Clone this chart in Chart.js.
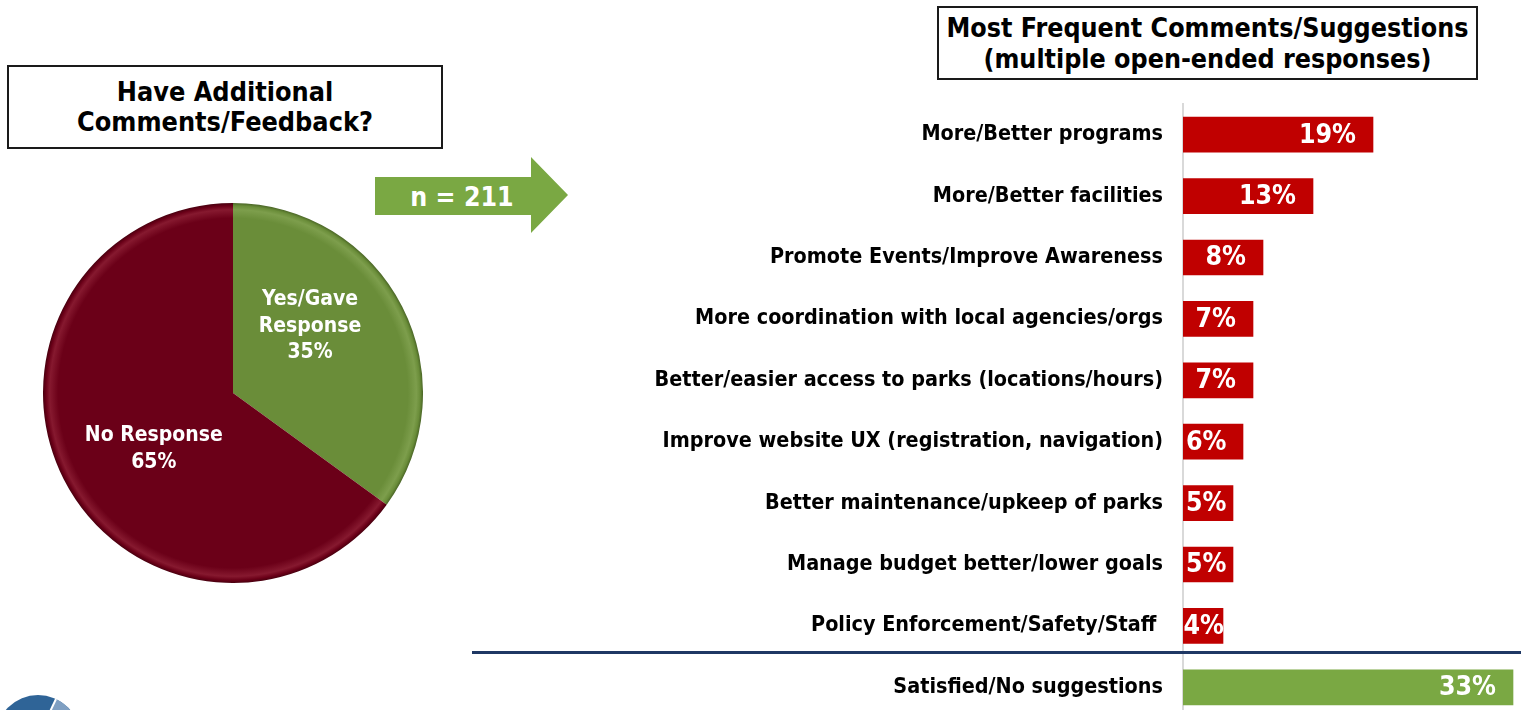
<!DOCTYPE html>
<html>
<head>
<meta charset="utf-8">
<script src="https://cdn.jsdelivr.net/npm/chart.js@4.4.0/dist/chart.umd.min.js"></script>
<style>
  html, body { margin: 0; padding: 0; background: #fff; width: 1521px; height: 710px; overflow: hidden; position: relative; }
  .f { font-family: "DejaVu Sans Condensed", "DejaVu Sans", sans-serif; font-weight: bold; }
  .box { position: absolute; box-sizing: border-box; border: 2px solid #1a1a1a; background: #fff; color: #000; text-align: center; display: flex; flex-direction: column; justify-content: center; }
  #pieBox { left: 7px; top: 65px; width: 436px; height: 84px; font-size: 26.8px; line-height: 30px; }
  #barBox { left: 937px; top: 6px; width: 541px; height: 74px; font-size: 26.6px; line-height: 31px; }
  canvas { position: absolute; }
  #pie { left: 43px; top: 203px; }
  #bar { left: 460px; top: 0px; }
  svg { position: absolute; left: 0; top: 0; }
</style>
</head>
<body>
<div id="pieBox" class="box f"><div>Have Additional</div><div>Comments/Feedback?</div></div>
<div id="barBox" class="box f"><div>Most Frequent Comments/Suggestions</div><div>(multiple open-ended responses)</div></div>
<svg width="1521" height="710">
  <polygon points="375,177 531,177 531,157 568,195 531,233 531,215 375,215" fill="#7aa843"/>
  <text x="462" y="206" text-anchor="middle" fill="#fff" font-family="DejaVu Sans Condensed, DejaVu Sans, sans-serif" font-weight="bold" font-size="26.5">n = 211</text>
  <circle cx="38" cy="737" r="42" fill="#2f6497"/>
  <path d="M38,737 L56,699 A42,42 0 0 1 80,737 Z" fill="#7f9fc2"/>
  <line x1="38" y1="737" x2="56" y2="699" stroke="#fff" stroke-width="2"/>
</svg>
<canvas id="pie" width="380" height="380"></canvas>
<canvas id="bar" width="1061" height="720"></canvas>
<script>
// ---------- data ----------
const pieLabels = ['Yes/Gave Response', 'No Response'];
const pieValues = [35, 65];
const pieLabelLines = [['Yes/Gave', 'Response', '35%'], ['No Response', '65%']];

const categories = [
  'More/Better programs',
  'More/Better facilities',
  'Promote Events/Improve Awareness',
  'More coordination with local agencies/orgs',
  'Better/easier access to parks (locations/hours)',
  'Improve website UX (registration, navigation)',
  'Better maintenance/upkeep of parks',
  'Manage budget better/lower goals',
  'Policy Enforcement/Safety/Staff ',
  'Satisfied/No suggestions'
];
const percentages = [19, 13, 8, 7, 7, 6, 5, 5, 4, 33];

// ---------- styling ----------
const FONT = '"DejaVu Sans Condensed", "DejaVu Sans", sans-serif';
const RED = '#c00000';
const GREEN = '#7aa843';
const PIE_COLORS = ['#6a8d39', '#6b0018'];
const PIE_LIGHT = ['#7d9e4c', '#86192f'];
const PIE_DARK = ['#4a6526', '#48000f'];

Chart.defaults.font.family = FONT;

// ---------- pie ----------
function pieFill(ctx) {
  const chart = ctx.chart;
  const area = chart.chartArea;
  const i = ctx.dataIndex;
  if (!area || !isFinite(area.left) || area.width <= 0) return PIE_COLORS[i];
  const cx = (area.left + area.right) / 2;
  const cy = (area.top + area.bottom) / 2;
  const r = Math.min(area.width, area.height) / 2;
  if (!(r > 0)) return PIE_COLORS[i];
  const g = chart.ctx.createRadialGradient(cx, cy, 0, cx, cy, r);
  g.addColorStop(0, PIE_COLORS[i]);
  g.addColorStop(0.92, PIE_COLORS[i]);
  g.addColorStop(0.965, PIE_LIGHT[i]);
  g.addColorStop(0.985, PIE_COLORS[i]);
  g.addColorStop(1, PIE_DARK[i]);
  return g;
}

const pieLabelPlugin = {
  id: 'pieLabels',
  afterDatasetsDraw(chart) {
    const ctx = chart.ctx;
    const meta = chart.getDatasetMeta(0);
    const radii = [0.537, 0.51];
    const shift = [-14.0, -8.2];
    meta.data.forEach((arc, i) => {
      const mid = (arc.startAngle + arc.endAngle) / 2 + shift[i] * Math.PI / 180;
      const rr = arc.outerRadius * radii[i];
      const x = arc.x + Math.cos(mid) * rr;
      const y = arc.y + Math.sin(mid) * rr;
      const lines = pieLabelLines[i];
      const lh = 26.8;
      ctx.save();
      ctx.fillStyle = '#fff';
      ctx.font = 'bold 21px ' + FONT;
      ctx.textAlign = 'center';
      ctx.textBaseline = 'middle';
      lines.forEach((t, k) => {
        ctx.fillText(t, x, y + (k - (lines.length - 1) / 2) * lh);
      });
      ctx.restore();
    });
  }
};

new Chart(document.getElementById('pie'), {
  type: 'pie',
  data: {
    labels: pieLabels,
    datasets: [{ data: pieValues, backgroundColor: pieFill, borderWidth: 0 }]
  },
  options: {
    responsive: false,
    animation: false,
    devicePixelRatio: 1,
    layout: { padding: 0 },
    plugins: { legend: { display: false }, tooltip: { enabled: false } }
  },
  plugins: [pieLabelPlugin]
});

// ---------- bars ----------
const barLabelPlugin = {
  id: 'barLabels',
  afterDatasetsDraw(chart) {
    const ctx = chart.ctx;
    const meta = chart.getDatasetMeta(0);
    ctx.save();
    ctx.font = 'bold 26.5px ' + FONT;
    ctx.fillStyle = '#fff';
    ctx.textAlign = 'right';
    ctx.textBaseline = 'middle';
    meta.data.forEach((bar, i) => {
      const t = percentages[i] + '%';
      const w = ctx.measureText(t).width;
      const xr = Math.max(bar.x - 17, Math.min(bar.base + 3 + w, bar.x + 1));
      ctx.fillText(t, xr, bar.y + 1);
    });
    ctx.restore();
  }
};

const separatorPlugin = {
  id: 'separator',
  afterDraw(chart) {
    const y = chart.scales.y;
    const n = categories.length;
    const ya = y.getPixelForValue(n - 2);
    const yb = y.getPixelForValue(n - 1);
    const yy = (ya + yb) / 2 - 4;
    const ctx = chart.ctx;
    ctx.save();
    ctx.strokeStyle = '#1f3864';
    ctx.lineWidth = 3;
    ctx.beginPath();
    ctx.moveTo(12, yy);
    ctx.lineTo(chart.width, yy);
    ctx.stroke();
    ctx.restore();
  }
};

new Chart(document.getElementById('bar'), {
  type: 'bar',
  data: {
    labels: categories,
    datasets: [{
      data: percentages,
      backgroundColor: percentages.map((v, i) => i === percentages.length - 1 ? GREEN : RED),
      barThickness: 35,
      borderWidth: 0
    }]
  },
  options: {
    indexAxis: 'y',
    responsive: false,
    animation: false,
    devicePixelRatio: 1,
    layout: { padding: { top: 104, bottom: 2, left: 0, right: 0 } },
    scales: {
      x: { display: false, min: 0, max: 33.8 },
      y: {
        afterFit(scale) { scale.width = 723; scale.paddingTop = 0; scale.paddingBottom = 0; },
        grid: { display: false, drawTicks: false },
        border: { display: true, color: '#d9d9d9', width: 2 },
        ticks: { color: '#000', padding: 20, font: { size: 21.4, weight: 'bold', family: FONT } }
      }
    },
    plugins: { legend: { display: false }, tooltip: { enabled: false } }
  },
  plugins: [barLabelPlugin, separatorPlugin]
});
</script>
</body>
</html>
